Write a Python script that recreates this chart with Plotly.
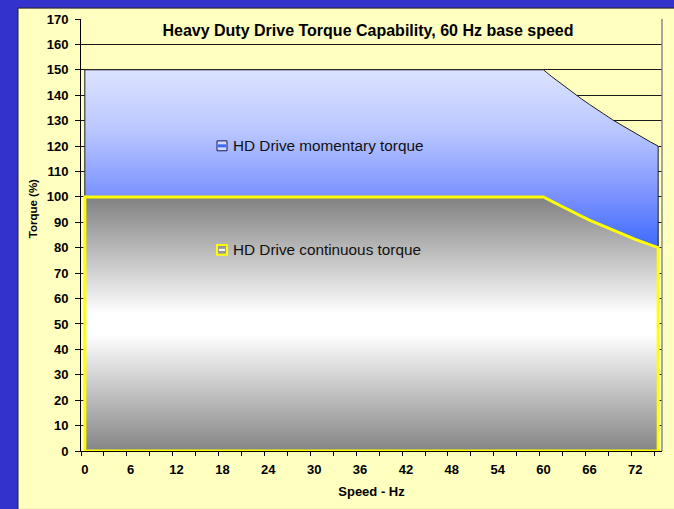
import plotly.graph_objects as go

# Speed categories (Hz) on the horizontal axis
speed_hz = list(range(0, 76))

# Torque capability (% of rated) for each speed category
momentary_torque = [150.0] * 61 + [
    147.5, 145.2, 142.9, 140.6, 138.5, 136.4, 134.3, 132.4,
    130.4, 128.6, 126.8, 125.0, 123.3, 121.6, 120.0,
]
continuous_torque = [100.0] * 61 + [
    98.4, 96.8, 95.2, 93.8, 92.3, 90.9, 89.6, 88.2,
    87.0, 85.7, 84.5, 83.3, 82.2, 81.1, 80.0,
]

series_names = ["HD Drive momentary torque", "HD Drive continuous torque"]
chart_title = "Heavy Duty Drive Torque Capability, 60 Hz base speed"
x_title = "Speed - Hz"
y_title = "Torque (%)"
x_tick_values = [0, 6, 12, 18, 24, 30, 36, 42, 48, 54, 60, 66, 72]
x_tick_labels = [str(v) for v in x_tick_values]
y_tick_values = list(range(0, 171, 10))

FONT = "Liberation Sans, Arial, sans-serif"
W, H = 674, 509
ML, MR, MT, MB = 81, 12, 19, 54
PW, PH = W - ML - MR, H - MT - MB


def px_x(x):
    return (x - ML) / PW


def px_y(y):
    return (H - MB - y) / PH


def closed_area(xs, ys):
    # outline runs down to the baseline on both ends so the border surrounds the area
    return [xs[0]] + xs + [xs[-1], xs[0]], [0] + ys + [0, 0]


fig = go.Figure()

mx, my = closed_area(speed_hz, momentary_torque)
fig.add_trace(go.Scatter(
    x=mx, y=my, name=series_names[0], mode="lines", fill="toself",
    line=dict(color="#1e1e1e", width=1),
    fillgradient=dict(
        type="vertical", start=0, stop=150,
        colorscale=[[0.0, "#0033ff"], [0.533, "#3a68ff"], [0.667, "#7890ff"],
                    [0.845, "#bac7ff"], [1.0, "#dce3ff"]],
    ),
    showlegend=False, hoverinfo="skip",
))

cx, cy = closed_area(speed_hz, continuous_torque)
fig.add_trace(go.Scatter(
    x=cx, y=cy, name=series_names[1], mode="lines", fill="toself",
    line=dict(color="#ffff00", width=3),
    fillgradient=dict(
        type="vertical", start=0, stop=100,
        colorscale=[[0.0, "#808080"], [0.47, "#ffffff"], [0.55, "#ffffff"],
                    [1.0, "#828282"]],
    ),
    showlegend=False, hoverinfo="skip",
))

shapes = [
    # yellow chart panel on the blue page
    dict(type="rect", xref="paper", yref="paper", layer="below",
         x0=px_x(18), x1=px_x(W + 5), y0=px_y(H + 5), y1=px_y(8),
         fillcolor="#ffffc0", line=dict(color="#222222", width=1)),
    # right edge of the plot area
    dict(type="line", xref="paper", yref="paper",
         x0=1, x1=1, y0=0, y1=1, line=dict(color="#8a8a8a", width=1.5)),
    # legend key: momentary
    dict(type="rect", xref="paper", yref="paper",
         x0=px_x(217), x1=px_x(227), y0=px_y(152), y1=px_y(142),
         fillcolor="#d0d9ff", line=dict(color="#1a1a55", width=1)),
    dict(type="line", xref="paper", yref="paper",
         x0=px_x(218), x1=px_x(226), y0=px_y(147), y1=px_y(147),
         line=dict(color="#3a68ff", width=3)),
    # legend key: continuous
    dict(type="rect", xref="paper", yref="paper",
         x0=px_x(217), x1=px_x(227), y0=px_y(257), y1=px_y(247),
         fillcolor="#9a9a9a", line=dict(color="#ffff00", width=2)),
    dict(type="line", xref="paper", yref="paper",
         x0=px_x(219), x1=px_x(225), y0=px_y(252), y1=px_y(252),
         line=dict(color="#ffffff", width=2)),
]

annotations = [
    dict(text=series_names[0], xref="paper", yref="paper",
         x=px_x(231), y=px_y(147), xanchor="left", yanchor="middle",
         showarrow=False, font=dict(family=FONT, size=15.3, color="#111111")),
    dict(text=series_names[1], xref="paper", yref="paper",
         x=px_x(231), y=px_y(252), xanchor="left", yanchor="middle",
         showarrow=False, font=dict(family=FONT, size=15.3, color="#111111")),
    # vertical axis title
    dict(text="<b>" + y_title + "</b>", xref="paper", yref="paper",
         x=px_x(33), y=px_y(210), xanchor="center", yanchor="middle",
         textangle=-90, showarrow=False,
         font=dict(family=FONT, size=11.5, color="#000000")),
]

fig.update_layout(
    width=W, height=H,
    margin=dict(l=ML, r=MR, t=MT, b=MB, pad=0),
    paper_bgcolor="#3333cc",
    plot_bgcolor="rgba(0,0,0,0)",
    font=dict(family=FONT, color="#000000"),
    title=dict(text="<b>" + chart_title + "</b>", x=px_x(368), xref="paper",
               xanchor="center", y=1 - 30 / H, yref="container",
               yanchor="middle", font=dict(family=FONT, size=16)),
    shapes=shapes,
    annotations=annotations,
    showlegend=False,
    xaxis=dict(
        range=[-0.5, 75.5], tickmode="array",
        tickvals=x_tick_values, ticktext=["<b>%s</b>" % t for t in x_tick_labels],
        ticks="", ticklabelstandoff=6, tickfont=dict(size=13),
        showgrid=False, zeroline=False,
        showline=True, linecolor="#000000", linewidth=1,
        minor=dict(tickmode="array", tickvals=[v - 0.5 for v in range(0, 76, 3)],
                   ticks="outside", ticklen=4, tickcolor="#000000", tickwidth=1,
                   showgrid=False),
        title=dict(text="<b>" + x_title + "</b>", font=dict(size=13), standoff=11),
    ),
    yaxis=dict(
        range=[0, 170], tickmode="array", tickvals=y_tick_values,
        ticktext=["<b>%d</b>" % v for v in y_tick_values],
        ticks="outside", ticklen=5, tickcolor="#000000", tickwidth=1,
        ticklabelstandoff=4, tickfont=dict(size=13),
        showgrid=True, gridcolor="#1a1a1a", gridwidth=1, zeroline=False,
        showline=True, linecolor="#000000", linewidth=1,
    ),
)

fig.write_html("out.html")
